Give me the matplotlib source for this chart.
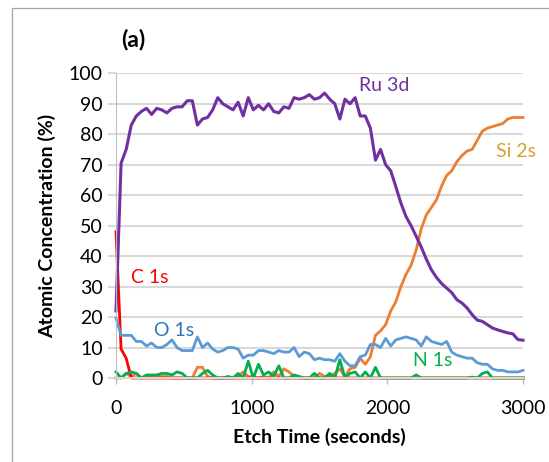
import numpy as np
import matplotlib
matplotlib.use('Agg')
import matplotlib.pyplot as plt
from matplotlib.patches import Rectangle

plt.rcParams['font.family'] = ['Lato', 'DejaVu Sans']

# Etch time samples (seconds), one scan every 37.5 s
etch_time = np.arange(81) * 37.5

ru_3d = [22, 70.5, 75, 83, 86, 87.5, 88.5, 86.5, 88.5, 88, 87, 88.5, 89, 89, 91, 91,
         83, 85, 85.5, 88, 92, 90, 89, 88, 90.5, 86, 92, 88, 89.5, 88, 90, 87.5,
         87, 89, 88.5, 92, 91.5, 92, 93, 91.5, 92, 93.5, 91.5, 90, 85, 91.5, 90, 92,
         86, 86, 82, 71.5, 75, 70, 68, 62.8, 57.4, 53, 50, 46.5, 43, 39, 35.5, 33,
         31, 29.5, 28, 25.7, 24.6, 23, 20.8, 19, 18.6, 17.5, 16.4, 15.8, 15.3, 14.8,
         14.5, 12.6, 12.4]

si_2s = [0, 0, 1.5, 0.5, 1.5, 0, 0.5, 0.5, 0.5, 0.5, 0.5, 0, 0, 0, 0, 0,
         3.5, 3.5, 0.5, 0, 0, 0, 0, 0, 0.5, 2, 0.5, 0.5, 0, 0.5, 0, 2,
         0.5, 3, 2, 0.5, 0, 0, 0, 0, 1.5, 0.5, 0.5, 1.5, 3, 0.5, 3, 3.5,
         6.5, 4.5, 7, 14, 15.5, 17.5, 22, 25, 30, 34, 37, 42, 49, 53.5, 56, 58.5,
         63, 66.5, 68, 71, 73, 74.5, 75, 78, 81, 82, 82.5, 83, 83.5, 85,
         85.5, 85.5, 85.5]

c_1s = [48, 9.5, 6.5, 0] + [0] * 77

o_1s = [19.7, 14, 14, 14, 12, 12, 10.5, 11.5, 10, 10, 11, 12.5, 10, 9, 9, 9,
        13.5, 10, 11.5, 9.5, 8.5, 9, 10, 10, 9.5, 6.5, 7.5, 7.5, 9, 9, 8.5, 8,
        9, 8.5, 8.5, 10, 7, 8.5, 8, 6, 6.5, 6, 6, 5.5, 8, 5.5, 4, 4,
        7, 7.5, 11, 11, 10, 13, 10.5, 12.5, 13, 13.5, 13, 12.5, 10.5, 13.5, 12, 11.5,
        11, 12, 8.5, 7.5, 7, 6.5, 6.5, 5, 4.5, 4.5, 3, 2.5, 2.5, 2,
        2, 2, 2.5]

n_1s = [2, 0, 1.5, 2, 1.5, 0, 1, 1, 1, 1.5, 1.5, 1, 2, 1.5, 0, 0,
        0, 1.5, 2.5, 1, 0, 0, 0.5, 0, 1.5, 0, 5.5, 0, 4.5, 1, 2, 0.5,
        4, 0, 0, 1, 0.5, 0, 0, 1.5, 0, 0, 1.5, 0, 6, 0, 1.5, 2,
        0, 2, 0, 3.5, 0, 0, 0, 0, 0, 0, 0, 1, 0, 0, 0, 0,
        0, 0, 0, 0, 0, 0, 0.3, 0, 1.5, 2, 0, 0, 0, 0,
        0, 0, 0]

fig = plt.figure(figsize=(5.49, 4.62), dpi=100)
fig.patches.append(Rectangle((12 / 549, -0.1), 1.2, 1.1 - 8 / 462, transform=fig.transFigure,
                             fill=False, edgecolor='#A6A6A6', lw=0.9))
ax = fig.add_axes([116 / 549, 1 - 378 / 462, 407 / 549, 304.7 / 462])

ax.yaxis.grid(True, color='#D9D9D9', lw=1.5)
ax.set_axisbelow(True)

ax.plot(etch_time, si_2s, color='#ED7D31', lw=2.0, clip_on=False)
ax.plot(etch_time, c_1s, color='#FF0000', lw=2.0, clip_on=False)
ax.plot(etch_time, o_1s, color='#5B9BD5', lw=2.0, clip_on=False)
ax.plot(etch_time, ru_3d, color='#7030A0', lw=2.2, clip_on=False)
ax.plot(etch_time, n_1s, color='#00B050', lw=2.0, clip_on=False)

ax.set_xlim(0, 3000)
ax.set_ylim(0, 100)
ax.set_xticks([0, 1000, 2000, 3000])
ax.set_yticks(range(0, 101, 10))

for s in ['top', 'right']:
    ax.spines[s].set_visible(False)
ax.spines['left'].set_color('#BFBFBF')
ax.spines['bottom'].set_color('#D9D9D9')
ax.spines['bottom'].set_linewidth(1.5)
ax.tick_params(axis='y', length=5.5, width=1.5, color='#D9D9D9', labelsize=14, pad=4)
ax.tick_params(axis='x', length=4, width=1, color='#BFBFBF', labelsize=14, pad=12)

ax.set_xlabel('Etch Time (seconds)', fontsize=14, fontweight='bold', labelpad=8)
ax.set_ylabel('Atomic Concentration (%)', fontsize=14, fontweight='bold', labelpad=9)

ax.text(1790, 96, 'Ru 3d', color='#7030A0', fontsize=14, va='center')
ax.text(2800, 74.3, 'Si 2s', color='#D5A42A', fontsize=14, va='center')
ax.text(107, 33, 'C 1s', color='#FF0000', fontsize=14, va='center')
ax.text(280, 15.5, 'O 1s', color='#2E75B6', fontsize=14, va='center')
ax.text(2189, 5.7, 'N 1s', color='#00B050', fontsize=14, va='center')

fig.text(121 / 549, 1 - 40 / 462, '(a)', fontsize=16.5, fontweight='bold', va='center')

fig.savefig('out.png', dpi=100)
